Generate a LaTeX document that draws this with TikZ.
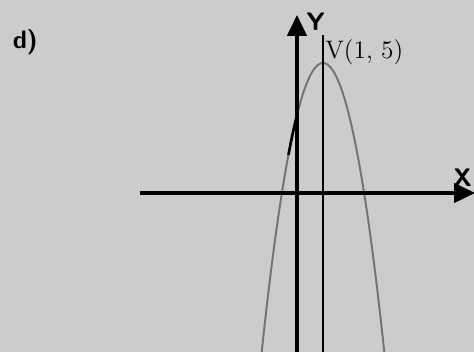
\documentclass[tikz,border=0pt]{standalone}
\usepackage{fontspec}
\usetikzlibrary{arrows.meta}
\tikzset{
  axis/.style={line width=2.1pt, -{Triangle[width=11pt, length=12pt]}},
  symaxis/.style={line width=1.1pt},
  curve/.style={line width=1.1pt, black!55},
}
\begin{document}
\begin{tikzpicture}[x=0.52cm, y=0.52cm]
            % Define frame and background
            \fill[black!20] (-11.423,-6.115) rectangle (6.808,7.423);
            \useasboundingbox (-11.423,-6.115) rectangle (6.808,7.423);
            \clip (-11.423,-6.115) rectangle (6.808,7.423);

            % Define axis ends
            \coordinate (XS) at (-6.04,0);
            \coordinate (XE) at (6.85,0);
            \coordinate (YS) at (0,-6.2);
            \coordinate (YE) at (0,6.85);
            \coordinate (SS) at (1,-6.2);
            \coordinate (SE) at (1,6.08);

            % Draw parabola y = -2x^2 + 4x + 3
            \draw[curve] plot[domain=-1.4:3.4, samples=80, smooth] (\x, {-2*\x*\x+4*\x+3});
            \draw[line width=1.5pt] plot[domain=-0.33:0, samples=10, smooth] (\x, {-2*\x*\x+4*\x+3});

            % Draw axes
            \draw[axis] (XS) -- (XE);
            \draw[axis] (YS) -- (YE);
            \draw[symaxis] (SS) -- (SE);

            % Labels
            \node (lbl) at (-10.45,5.81) {\sffamily\bfseries\Large d)};
            \node (ylbl) at (0.72,6.6) {\sffamily\bfseries\Large Y};
            \node[anchor=east, inner sep=1pt] (xlbl) at (6.808,0.6) {\sffamily\bfseries\Large X};
            \node[anchor=west, inner sep=0pt] (vlbl) at (1.08,5.42) {\Large V(1, 5)};
        \end{tikzpicture}
\end{document}
